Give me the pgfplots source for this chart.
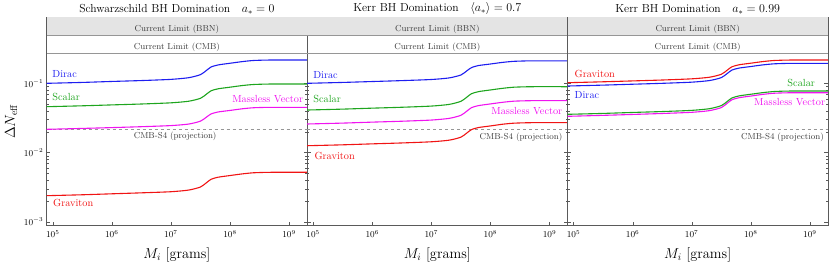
\documentclass[border=0pt]{standalone}
\usepackage{pgfplots}
\pgfplotsset{compat=1.18}
\usepackage{pgfplotstable}
\definecolor{cdirac}{RGB}{30,30,240}
\definecolor{cscalar}{RGB}{30,165,30}
\definecolor{cmv}{RGB}{240,20,240}
\definecolor{cgrav}{RGB}{240,20,20}
\definecolor{cband}{RGB}{228,228,228}
\definecolor{cline}{RGB}{150,150,150}
\definecolor{caxis}{RGB}{90,90,90}
\definecolor{ctext}{RGB}{60,60,60}

% columns: log10(M_i/g), log10(Delta N_eff)
\pgfplotstableread{
lx dirac scalar mv grav
4.898 -1.000 -1.338 -1.665 -2.624
5.5 -0.987 -1.325 -1.652 -2.611
6.0 -0.973 -1.312 -1.640 -2.597
6.5 -0.960 -1.299 -1.627 -2.583
7.0 -0.943 -1.282 -1.611 -2.567
7.3 -0.919 -1.259 -1.589 -2.543
7.5 -0.875 -1.217 -1.547 -2.499
7.6 -0.815 -1.158 -1.490 -2.438
7.68 -0.764 -1.108 -1.442 -2.387
7.8 -0.734 -1.079 -1.414 -2.357
8.0 -0.710 -1.056 -1.392 -2.333
8.2 -0.687 -1.033 -1.369 -2.310
8.4 -0.670 -1.017 -1.353 -2.293
8.7 -0.663 -1.010 -1.347 -2.286
9.305 -0.663 -1.010 -1.347 -2.286
}\tabA
\pgfplotstableread{
lx dirac scalar mv grav
4.898 -1.000 -1.386 -1.588 -1.902
5.5 -0.987 -1.373 -1.575 -1.889
6.0 -0.974 -1.359 -1.561 -1.875
6.5 -0.961 -1.346 -1.548 -1.862
7.0 -0.945 -1.329 -1.531 -1.845
7.3 -0.922 -1.305 -1.507 -1.822
7.5 -0.880 -1.261 -1.463 -1.779
7.6 -0.821 -1.201 -1.403 -1.719
7.68 -0.773 -1.150 -1.352 -1.669
7.8 -0.743 -1.120 -1.322 -1.639
8.0 -0.721 -1.096 -1.298 -1.616
8.2 -0.698 -1.073 -1.275 -1.592
8.4 -0.682 -1.056 -1.258 -1.576
8.7 -0.675 -1.049 -1.251 -1.569
9.305 -0.675 -1.049 -1.251 -1.569
}\tabB
\pgfplotstableread{
lx grav dirac scalar mv
4.898 -0.991 -1.039 -1.448 -1.477
5.5 -0.978 -1.026 -1.435 -1.463
6.0 -0.965 -1.013 -1.421 -1.450
6.5 -0.952 -1.000 -1.408 -1.436
7.0 -0.935 -0.983 -1.391 -1.419
7.3 -0.912 -0.960 -1.367 -1.395
7.5 -0.870 -0.918 -1.323 -1.351
7.6 -0.811 -0.859 -1.263 -1.289
7.68 -0.761 -0.809 -1.212 -1.238
7.8 -0.732 -0.780 -1.182 -1.208
8.0 -0.709 -0.757 -1.158 -1.184
8.2 -0.686 -0.734 -1.135 -1.160
8.4 -0.670 -0.718 -1.118 -1.143
8.7 -0.663 -0.711 -1.111 -1.136
9.305 -0.663 -0.711 -1.111 -1.136
}\tabC

\newcommand{\limtext}{\fontsize{8.7}{10}\selectfont}
\newcommand{\curvetext}{\fontsize{10.3}{12}\selectfont}

\begin{document}
\begin{tikzpicture}
% ---------- panel 1 ----------
\begin{axis}[xmode=log, ymode=log, scale only axis,
    width=260.4pt, height=208.4pt,
    xmin=7.91e4, xmax=2.02e9, ymin=8.75e-4, ymax=0.9,
    axis line style={caxis, line width=0.8pt},
    tick style={caxis},
    tick align=inside,
    xtick={1e5,1e6,1e7,1e8,1e9},
    ytick={1e-3,1e-2,1e-1},
    xminorticks=false,
    major tick length=3.5pt, minor tick length=2pt,
    tick label style={font=\small},
    xticklabel style={yshift=-1pt},
    xlabel={$M_i$ [grams]},
    xlabel style={font=\Large, yshift=-3pt},
    title style={font=\fontsize{11.6}{13}\selectfont, yshift=-7pt},
  at={(0pt,0pt)}, anchor=south west,
  title={Schwarzschild BH Domination\quad$a_*=0$},
  ylabel={$\Delta N_{\rm eff}$}, ylabel style={font=\Large}]
\addplot[draw=none, fill=cband] coordinates {(7.91e4,0.5) (2.02e9,0.5) (2.02e9,0.9) (7.91e4,0.9)} -- cycle;
\addplot[cline, line width=0.7pt] coordinates {(7.91e4,0.5) (2.02e9,0.5)};
\addplot[cline, line width=0.7pt] coordinates {(7.91e4,0.27) (2.02e9,0.27)};
\addplot[cline, dashed, line width=0.6pt] coordinates {(7.91e4,0.022) (2.02e9,0.022)};
\addplot[line width=1.1pt, smooth, tension=0.4, cdirac] table[x expr={10^\thisrow{lx}}, y expr={10^\thisrow{dirac}}] {\tabA};
\addplot[line width=1.1pt, smooth, tension=0.4, cscalar] table[x expr={10^\thisrow{lx}}, y expr={10^\thisrow{scalar}}] {\tabA};
\addplot[line width=1.1pt, smooth, tension=0.4, cmv] table[x expr={10^\thisrow{lx}}, y expr={10^\thisrow{mv}}] {\tabA};
\addplot[line width=1.1pt, smooth, tension=0.4, cgrav] table[x expr={10^\thisrow{lx}}, y expr={10^\thisrow{grav}}] {\tabA};
\node[text=ctext, font=\limtext] at (axis cs:1.264e7,0.602) {Current Limit (BBN)};
\node[text=ctext, font=\limtext] at (axis cs:1.264e7,0.327) {Current Limit (CMB)};
\node[text=ctext, font=\limtext] at (axis cs:1.18e7,0.0169) {CMB-S4 (projection)};
\node[text=cdirac, font=\curvetext, anchor=west, inner sep=0pt] at (axis cs:9.8e4,0.136) {Dirac};
\node[text=cscalar, font=\curvetext, anchor=west, inner sep=0pt] at (axis cs:9.8e4,0.0628) {Scalar};
\node[text=cmv, font=\curvetext, anchor=east, inner sep=0pt] at (axis cs:1.746e9,0.0593) {Massless Vector};
\node[text=cgrav, font=\curvetext, anchor=west, inner sep=0pt] at (axis cs:1.01e5,0.00188) {Graviton};
\end{axis}
% ---------- panel 2 ----------
\begin{axis}[xmode=log, ymode=log, scale only axis,
    width=260.4pt, height=208.4pt,
    xmin=7.91e4, xmax=2.02e9, ymin=8.75e-4, ymax=0.9,
    axis line style={caxis, line width=0.8pt},
    tick style={caxis},
    tick align=inside,
    xtick={1e5,1e6,1e7,1e8,1e9},
    ytick={1e-3,1e-2,1e-1},
    xminorticks=false,
    major tick length=3.5pt, minor tick length=2pt,
    tick label style={font=\small},
    xticklabel style={yshift=-1pt},
    xlabel={$M_i$ [grams]},
    xlabel style={font=\Large, yshift=-3pt},
    title style={font=\fontsize{11.6}{13}\selectfont, yshift=-7pt},
  at={(260.4pt,0pt)}, anchor=south west,
  title={Kerr BH Domination\quad$\langle a_*\rangle=0.7$},
  yticklabels={}]
\addplot[draw=none, fill=cband] coordinates {(7.91e4,0.5) (2.02e9,0.5) (2.02e9,0.9) (7.91e4,0.9)} -- cycle;
\addplot[cline, line width=0.7pt] coordinates {(7.91e4,0.5) (2.02e9,0.5)};
\addplot[cline, line width=0.7pt] coordinates {(7.91e4,0.27) (2.02e9,0.27)};
\addplot[cline, dashed, line width=0.6pt] coordinates {(7.91e4,0.022) (2.02e9,0.022)};
\addplot[line width=1.1pt, smooth, tension=0.4, cdirac] table[x expr={10^\thisrow{lx}}, y expr={10^\thisrow{dirac}}] {\tabB};
\addplot[line width=1.1pt, smooth, tension=0.4, cscalar] table[x expr={10^\thisrow{lx}}, y expr={10^\thisrow{scalar}}] {\tabB};
\addplot[line width=1.1pt, smooth, tension=0.4, cmv] table[x expr={10^\thisrow{lx}}, y expr={10^\thisrow{mv}}] {\tabB};
\addplot[line width=1.1pt, smooth, tension=0.4, cgrav] table[x expr={10^\thisrow{lx}}, y expr={10^\thisrow{grav}}] {\tabB};
\node[text=ctext, font=\limtext] at (axis cs:1.264e7,0.602) {Current Limit (BBN)};
\node[text=ctext, font=\limtext] at (axis cs:1.264e7,0.327) {Current Limit (CMB)};
\node[text=ctext, font=\limtext, anchor=east, inner sep=0pt] at (axis cs:1.66e9,0.0164) {CMB-S4 (projection)};
\node[text=cdirac, font=\curvetext, anchor=west, inner sep=0pt] at (axis cs:1.0e5,0.133) {Dirac};
\node[text=cscalar, font=\curvetext, anchor=west, inner sep=0pt] at (axis cs:1.0e5,0.060) {Scalar};
\node[text=cmv, font=\curvetext, anchor=east, inner sep=0pt] at (axis cs:1.66e9,0.0394) {Massless Vector};
\node[text=cgrav, font=\curvetext, anchor=west, inner sep=0pt] at (axis cs:1.05e5,0.00889) {Graviton};
\end{axis}
% ---------- panel 3 ----------
\begin{axis}[xmode=log, ymode=log, scale only axis,
    width=260.4pt, height=208.4pt,
    xmin=7.91e4, xmax=2.02e9, ymin=8.75e-4, ymax=0.9,
    axis line style={caxis, line width=0.8pt},
    tick style={caxis},
    tick align=inside,
    xtick={1e5,1e6,1e7,1e8,1e9},
    ytick={1e-3,1e-2,1e-1},
    xminorticks=false,
    major tick length=3.5pt, minor tick length=2pt,
    tick label style={font=\small},
    xticklabel style={yshift=-1pt},
    xlabel={$M_i$ [grams]},
    xlabel style={font=\Large, yshift=-3pt},
    title style={font=\fontsize{11.6}{13}\selectfont, yshift=-7pt},
  at={(520.8pt,0pt)}, anchor=south west,
  title={Kerr BH Domination\quad$a_*=0.99$},
  yticklabels={}]
\addplot[draw=none, fill=cband] coordinates {(7.91e4,0.5) (2.02e9,0.5) (2.02e9,0.9) (7.91e4,0.9)} -- cycle;
\addplot[cline, line width=0.7pt] coordinates {(7.91e4,0.5) (2.02e9,0.5)};
\addplot[cline, line width=0.7pt] coordinates {(7.91e4,0.27) (2.02e9,0.27)};
\addplot[cline, dashed, line width=0.6pt] coordinates {(7.91e4,0.022) (2.02e9,0.022)};
\addplot[line width=1.1pt, smooth, tension=0.4, cdirac] table[x expr={10^\thisrow{lx}}, y expr={10^\thisrow{dirac}}] {\tabC};
\addplot[line width=1.1pt, smooth, tension=0.4, cgrav] table[x expr={10^\thisrow{lx}}, y expr={10^\thisrow{grav}}] {\tabC};
\addplot[line width=1.1pt, smooth, tension=0.4, cmv] table[x expr={10^\thisrow{lx}}, y expr={10^\thisrow{mv}}] {\tabC};
\addplot[line width=1.1pt, smooth, tension=0.4, cscalar] table[x expr={10^\thisrow{lx}}, y expr={10^\thisrow{scalar}}] {\tabC};
\node[text=ctext, font=\limtext] at (axis cs:1.264e7,0.602) {Current Limit (BBN)};
\node[text=ctext, font=\limtext] at (axis cs:1.264e7,0.327) {Current Limit (CMB)};
\node[text=ctext, font=\limtext, anchor=east, inner sep=0pt] at (axis cs:1.73e9,0.0164) {CMB-S4 (projection)};
\node[text=cgrav, font=\curvetext, anchor=west, inner sep=0pt] at (axis cs:1.04e5,0.136) {Graviton};
\node[text=cdirac, font=\curvetext, anchor=west, inner sep=0pt] at (axis cs:1.04e5,0.0684) {Dirac};
\node[text=cscalar, font=\curvetext, anchor=east, inner sep=0pt] at (axis cs:1.23e9,0.1) {Scalar};
\node[text=cmv, font=\curvetext, anchor=east, inner sep=0pt] at (axis cs:1.82e9,0.0542) {Massless Vector};
\end{axis}
\pgfresetboundingbox
\path[use as bounding box] (-46.7pt,-46.3pt) rectangle (783.3pt,225.7pt);
\end{tikzpicture}
\end{document}
